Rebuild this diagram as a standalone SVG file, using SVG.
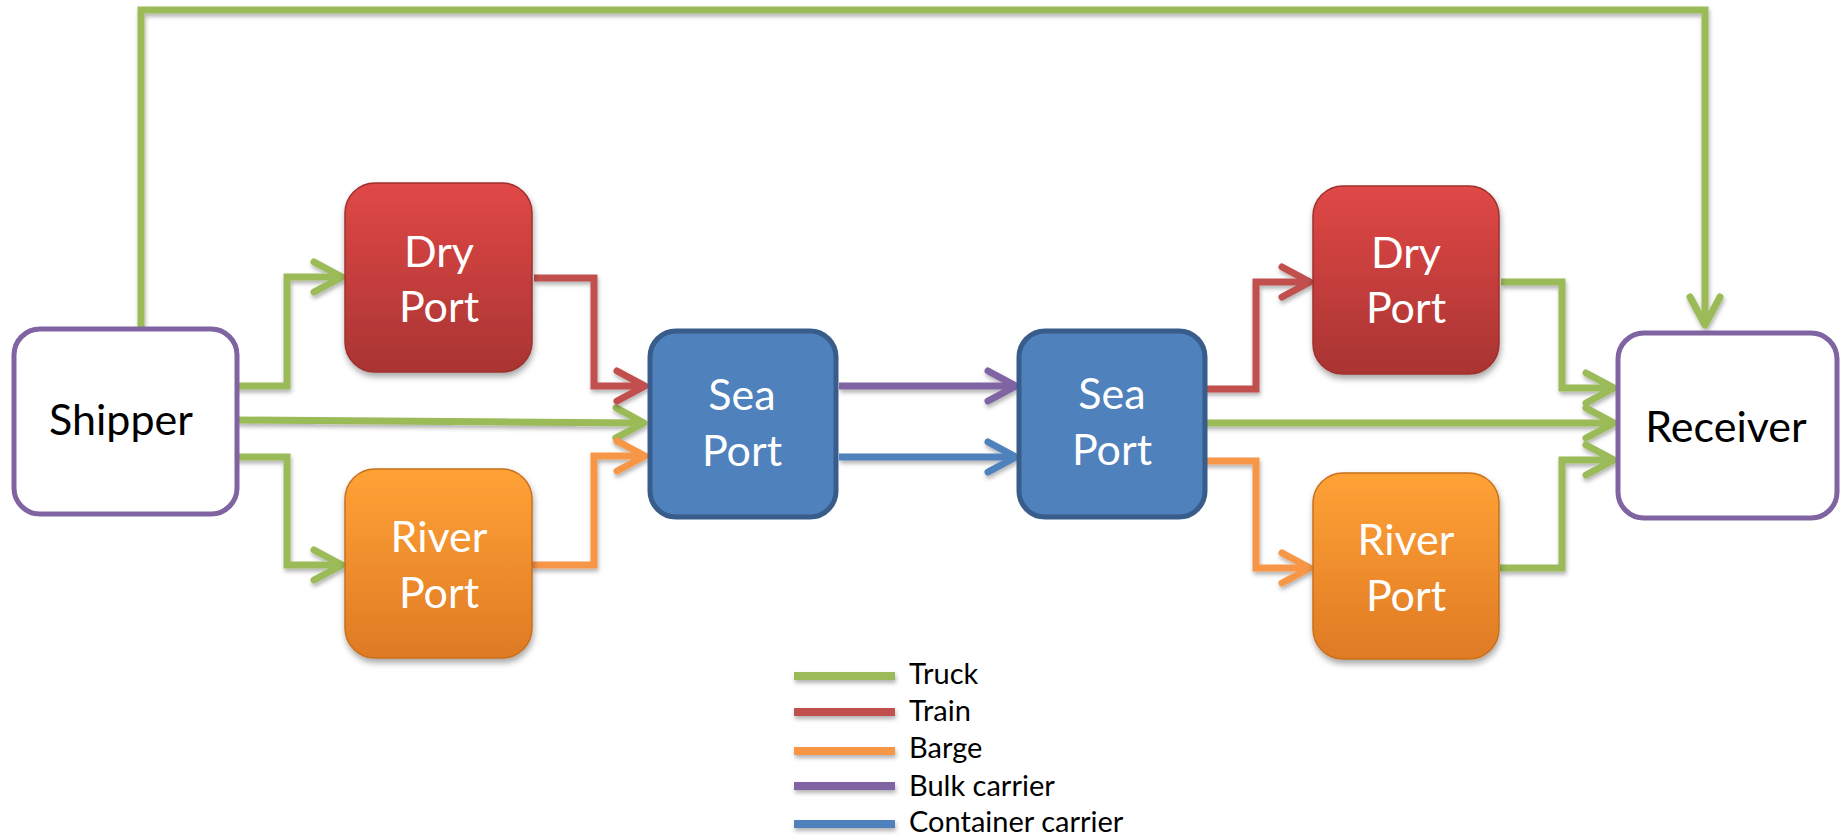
<svg xmlns="http://www.w3.org/2000/svg" width="1841" height="835" viewBox="0 0 1841 835">
<style>
  .conn { fill: none; stroke-width: 7; stroke-linejoin: miter; stroke-linecap: butt; filter: url(#shadow); }
  .truck { stroke: #9BBB59; }
  .train { stroke: #C0504D; }
  .barge { stroke: #F79646; }
  .bulk { stroke: #8064A2; }
  .container { stroke: #4F81BD; }
  .label { font-family: "Lato", "Liberation Sans", sans-serif; font-size: 43px; text-anchor: middle; }
  .white { fill: #FFFFFF; }
  .black { fill: #000000; }
  .legend-text { font-family: "Lato", "Liberation Sans", sans-serif; font-size: 29px; fill: #000000; }
  .legend-line { stroke-width: 8; filter: url(#shadow); }
</style>
<defs>
  <filter id="shadow" filterUnits="userSpaceOnUse" x="0" y="0" width="1841" height="835">
    <feDropShadow dx="1" dy="3" stdDeviation="2" flood-color="#000000" flood-opacity="0.3"/>
  </filter>
  <filter id="boxshadow" filterUnits="userSpaceOnUse" x="0" y="0" width="1841" height="835">
    <feDropShadow dx="1" dy="4" stdDeviation="3" flood-color="#000000" flood-opacity="0.35"/>
  </filter>
  <linearGradient id="redGrad" x1="0" y1="0" x2="0" y2="1">
    <stop offset="0" stop-color="#E04846"/>
    <stop offset="1" stop-color="#A93432"/>
  </linearGradient>
  <linearGradient id="orangeGrad" x1="0" y1="0" x2="0" y2="1">
    <stop offset="0" stop-color="#FFA236"/>
    <stop offset="1" stop-color="#DF7A24"/>
  </linearGradient>
  <marker id="arrGreen" viewBox="-40 -22 50 44" refX="0" refY="0" markerWidth="50" markerHeight="44" markerUnits="userSpaceOnUse" orient="auto">
    <path d="M-28,-15 L0,0 L-28,15" fill="none" stroke="#9BBB59" stroke-width="7" stroke-linecap="round" stroke-linejoin="round"/>
  </marker>
  <marker id="arrRed" viewBox="-40 -22 50 44" refX="0" refY="0" markerWidth="50" markerHeight="44" markerUnits="userSpaceOnUse" orient="auto">
    <path d="M-28,-15 L0,0 L-28,15" fill="none" stroke="#C0504D" stroke-width="7" stroke-linecap="round" stroke-linejoin="round"/>
  </marker>
  <marker id="arrOrange" viewBox="-40 -22 50 44" refX="0" refY="0" markerWidth="50" markerHeight="44" markerUnits="userSpaceOnUse" orient="auto">
    <path d="M-28,-15 L0,0 L-28,15" fill="none" stroke="#F79646" stroke-width="7" stroke-linecap="round" stroke-linejoin="round"/>
  </marker>
  <marker id="arrPurple" viewBox="-40 -22 50 44" refX="0" refY="0" markerWidth="50" markerHeight="44" markerUnits="userSpaceOnUse" orient="auto">
    <path d="M-28,-15 L0,0 L-28,15" fill="none" stroke="#8064A2" stroke-width="7" stroke-linecap="round" stroke-linejoin="round"/>
  </marker>
  <marker id="arrBlue" viewBox="-40 -22 50 44" refX="0" refY="0" markerWidth="50" markerHeight="44" markerUnits="userSpaceOnUse" orient="auto">
    <path d="M-28,-15 L0,0 L-28,15" fill="none" stroke="#4F81BD" stroke-width="7" stroke-linecap="round" stroke-linejoin="round"/>
  </marker>
</defs>

<rect x="0" y="0" width="1841" height="835" fill="#FFFFFF"/>

<g id="connectors">
  <path class="conn truck" d="M141,328 V10 H1705 V325" marker-end="url(#arrGreen)"/>
  <path class="conn truck" d="M229,386 H287 V277 H342" marker-end="url(#arrGreen)"/>
  <path class="conn truck" d="M236,420 L644,423" marker-end="url(#arrGreen)"/>
  <path class="conn truck" d="M229,457 H287 V565 H342" marker-end="url(#arrGreen)"/>
  <path class="conn train" d="M534,278 H594 V386 H645" marker-end="url(#arrRed)"/>
  <path class="conn barge" d="M531,565 H594 V456 H645" marker-end="url(#arrOrange)"/>
  <path class="conn bulk" d="M839,386 H1016" marker-end="url(#arrPurple)"/>
  <path class="conn container" d="M839,457 H1016" marker-end="url(#arrBlue)"/>
  <path class="conn train" d="M1198,389 H1256 V282 H1310" marker-end="url(#arrRed)"/>
  <path class="conn barge" d="M1198,461 H1256 V568 H1310" marker-end="url(#arrOrange)"/>
  <path class="conn truck" d="M1501,282 H1562 V388 H1614" marker-end="url(#arrGreen)"/>
  <path class="conn truck" d="M1203,423 H1614" marker-end="url(#arrGreen)"/>
  <path class="conn truck" d="M1500,568 H1562 V460 H1614" marker-end="url(#arrGreen)"/>
</g>

<g id="shipper">
  <rect x="14" y="329" width="223" height="185" rx="26" ry="26" fill="#FFFFFF" stroke="#8064A2" stroke-width="5"/>
  <text class="label black" x="121" y="435">Shipper</text>
</g>

<g id="dry-port-1">
  <rect x="345" y="183" width="187" height="189" rx="30" ry="30" fill="url(#redGrad)" stroke="#9E302E" stroke-width="1.5" filter="url(#boxshadow)"/>
  <text class="label white" x="439" y="267">Dry</text>
  <text class="label white" x="439" y="322">Port</text>
</g>

<g id="river-port-1">
  <rect x="345" y="469" width="187" height="189" rx="30" ry="30" fill="url(#orangeGrad)" stroke="#C8701E" stroke-width="1.5" filter="url(#boxshadow)"/>
  <text class="label white" x="439" y="552">River</text>
  <text class="label white" x="439" y="608">Port</text>
</g>

<g id="sea-port-1">
  <rect x="650" y="331" width="186" height="186" rx="26" ry="26" fill="#4F81BD" stroke="#385D8A" stroke-width="5"/>
  <text class="label white" x="742" y="410">Sea</text>
  <text class="label white" x="742" y="466">Port</text>
</g>

<g id="sea-port-2">
  <rect x="1019" y="331" width="186" height="186" rx="26" ry="26" fill="#4F81BD" stroke="#385D8A" stroke-width="5"/>
  <text class="label white" x="1112" y="409">Sea</text>
  <text class="label white" x="1112" y="465">Port</text>
</g>

<g id="dry-port-2">
  <rect x="1313" y="186" width="186" height="188" rx="30" ry="30" fill="url(#redGrad)" stroke="#9E302E" stroke-width="1.5" filter="url(#boxshadow)"/>
  <text class="label white" x="1406" y="268">Dry</text>
  <text class="label white" x="1406" y="323">Port</text>
</g>

<g id="river-port-2">
  <rect x="1313" y="473" width="186" height="186" rx="30" ry="30" fill="url(#orangeGrad)" stroke="#C8701E" stroke-width="1.5" filter="url(#boxshadow)"/>
  <text class="label white" x="1406" y="555">River</text>
  <text class="label white" x="1406" y="611">Port</text>
</g>

<g id="receiver">
  <rect x="1618" y="333" width="219" height="185" rx="26" ry="26" fill="#FFFFFF" stroke="#8064A2" stroke-width="5"/>
  <text class="label black" x="1726" y="442">Receiver</text>
</g>

<g id="legend">
  <line class="legend-line truck" x1="794" y1="676" x2="895" y2="676"/>
  <text class="legend-text" x="909" y="684">Truck</text>
  <line class="legend-line train" x1="794" y1="712" x2="895" y2="712"/>
  <text class="legend-text" x="909" y="721">Train</text>
  <line class="legend-line barge" x1="794" y1="751" x2="895" y2="751"/>
  <text class="legend-text" x="909" y="758">Barge</text>
  <line class="legend-line bulk" x1="794" y1="786" x2="895" y2="786"/>
  <text class="legend-text" x="909" y="796">Bulk carrier</text>
  <line class="legend-line container" x1="794" y1="824" x2="895" y2="824"/>
  <text class="legend-text" x="909" y="832">Container carrier</text>
</g>
</svg>
